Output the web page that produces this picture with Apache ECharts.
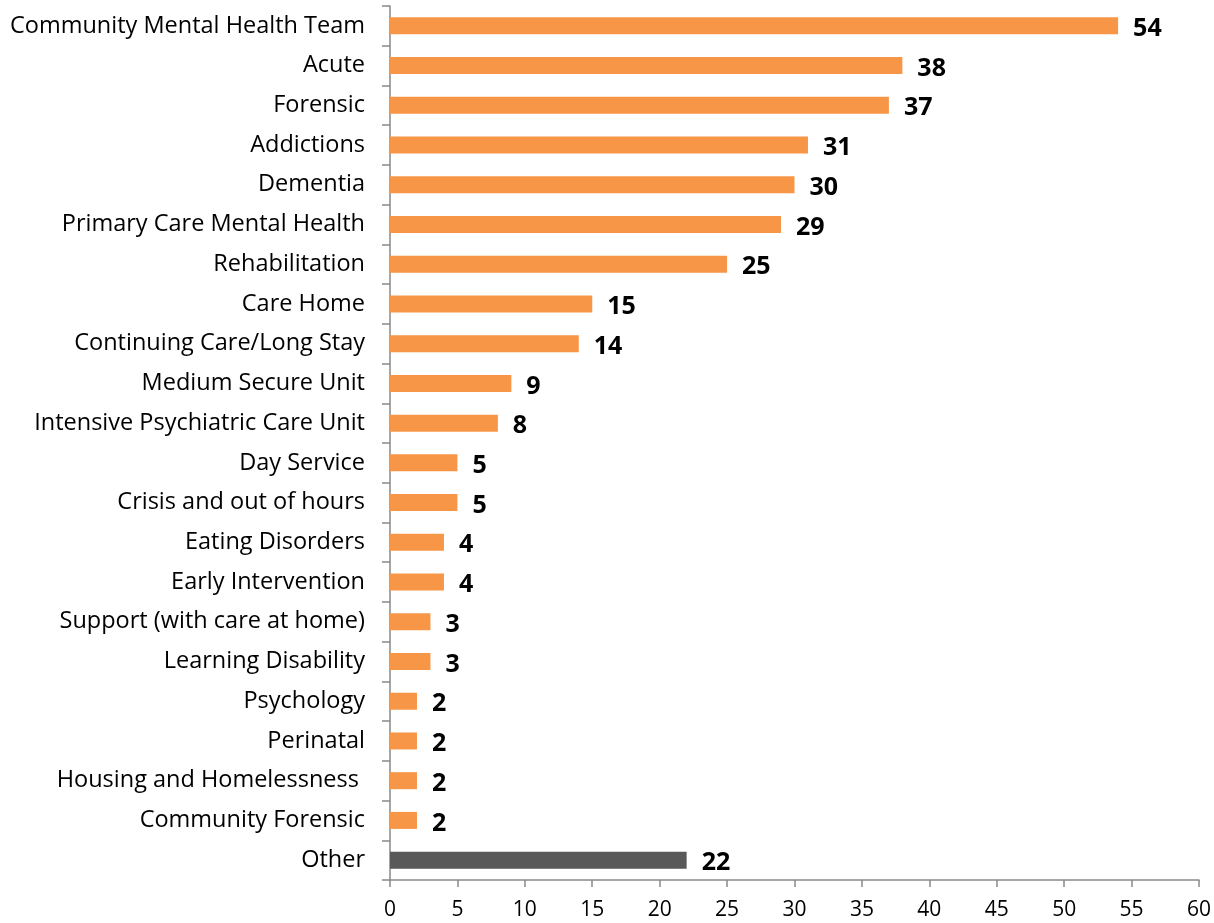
<!DOCTYPE html>
<html>
<head>
<meta charset="utf-8">
<script src="https://cdn.jsdelivr.net/npm/echarts@6/dist/echarts.min.js"></script>
<style>
  html, body { margin: 0; padding: 0; background: #fff; }
  #chart { width: 1214px; height: 923px; }
</style>
</head>
<body>
<div id="chart"></div>
<script>
// 类别（从上到下）
var categories = ['Community Mental Health Team', 'Acute', 'Forensic', 'Addictions', 'Dementia',
  'Primary Care Mental Health', 'Rehabilitation', 'Care Home', 'Continuing Care/Long Stay',
  'Medium Secure Unit', 'Intensive Psychiatric Care Unit', 'Day Service', 'Crisis and out of hours',
  'Eating Disorders', 'Early Intervention', 'Support (with care at home)', 'Learning Disability',
  'Psychology', 'Perinatal', 'Housing and Homelessness ', 'Community Forensic', 'Other'];
var values = [54, 38, 37, 31, 30, 29, 25, 15, 14, 9, 8, 5, 5, 4, 4, 3, 3, 2, 2, 2, 2, 22];
var xTicks = [0, 5, 10, 15, 20, 25, 30, 35, 40, 45, 50, 55, 60];

var chart = echarts.init(document.getElementById('chart'));
var option = {
  animation: false,
  textStyle: { fontFamily: 'Open Sans' },
  grid: { left: 390, right: 14, top: 6, bottom: 43 },
  xAxis: {
    type: 'value',
    min: xTicks[0],
    max: xTicks[xTicks.length - 1],
    interval: 5,
    axisLine: { show: true, lineStyle: { color: '#898989', width: 1.5 } },
    axisTick: { show: true, length: 7, lineStyle: { color: '#898989', width: 1.5 } },
    axisLabel: { color: '#000', fontSize: 21, margin: 20 },
    splitLine: { show: false }
  },
  yAxis: {
    type: 'category',
    inverse: true,
    data: categories,
    axisLine: { lineStyle: { color: '#898989', width: 1.5 } },
    axisTick: { show: true, length: 8, lineStyle: { color: '#898989', width: 1.5 } },
    axisLabel: { color: '#000', fontSize: 23.5, margin: 25, padding: [5, 0, 0, 0] }
  },
  series: [{
    type: 'bar',
    barWidth: 17,
    data: values.map(function (v, i) {
      return {
        value: v,
        itemStyle: { color: categories[i] === 'Other' ? '#595959' : '#F79646' }
      };
    }),
    label: {
      show: true,
      position: 'right',
      distance: 15,
      offset: [0, 3],
      color: '#000',
      fontSize: 25,
      fontWeight: 'bold'
    }
  }]
};
chart.setOption(option);
</script>
</body>
</html>
